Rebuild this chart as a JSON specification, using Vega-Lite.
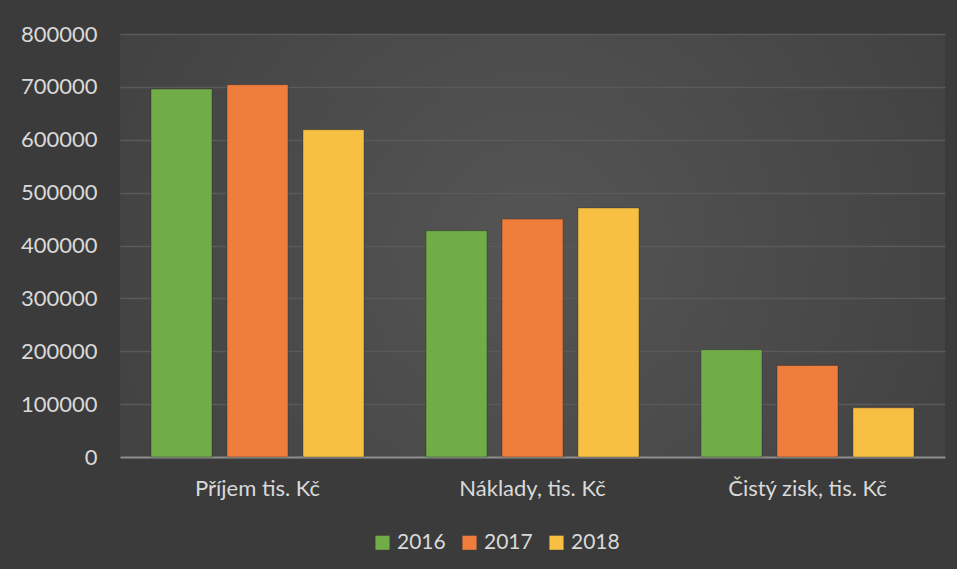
{
  "$schema": "https://vega.github.io/schema/vega-lite/v6.json",
  "autosize": {"type": "none"},
  "width": 825,
  "height": 423,
  "padding": {"left": 120, "top": 34, "right": 12, "bottom": 112},
  "background": "#3b3b3b",
  "config": {
    "view": {"stroke": null, "fill": {"gradient": "radial", "x1": 0.5, "y1": 0.5, "x2": 0.5, "y2": 0.5, "r1": 0, "r2": 0.75, "stops": [{"offset": 0, "color": "#555555"}, {"offset": 1, "color": "#3b3b3b"}]}},
    "font": "Lato"
  },
  "data": {
    "values": [
      {"kategorie": "Příjem tis. Kč", "rok": "2016", "hodnota": 696000},
      {"kategorie": "Příjem tis. Kč", "rok": "2017", "hodnota": 704000},
      {"kategorie": "Příjem tis. Kč", "rok": "2018", "hodnota": 619000},
      {"kategorie": "Náklady, tis. Kč", "rok": "2016", "hodnota": 428000},
      {"kategorie": "Náklady, tis. Kč", "rok": "2017", "hodnota": 450000},
      {"kategorie": "Náklady, tis. Kč", "rok": "2018", "hodnota": 471000},
      {"kategorie": "Čistý zisk, tis. Kč", "rok": "2016", "hodnota": 203000},
      {"kategorie": "Čistý zisk, tis. Kč", "rok": "2017", "hodnota": 173000},
      {"kategorie": "Čistý zisk, tis. Kč", "rok": "2018", "hodnota": 93000}
    ]
  },
  "mark": {"type": "bar", "strokeWidth": 1, "strokeOpacity": 0.35, "stroke": "#222222"},
  "encoding": {
    "x": {
      "field": "kategorie",
      "type": "nominal",
      "sort": null,
      "scale": {"paddingInner": 0, "paddingOuter": 0},
      "axis": {
        "title": null,
        "labelAngle": 0,
        "labelFontSize": 22,
        "labelColor": "#d9d9d9",
        "labelPadding": 21,
        "ticks": false,
        "domain": true,
        "domainColor": "#8c8c8c",
        "domainWidth": 2,
        "grid": false
      }
    },
    "xOffset": {
      "field": "rok",
      "type": "nominal",
      "scale": {"paddingInner": 0.197, "paddingOuter": 0.408}
    },
    "y": {
      "field": "hodnota",
      "type": "quantitative",
      "scale": {"domain": [0, 800000], "nice": false},
      "axis": {
        "title": null,
        "values": [0, 100000, 200000, 300000, 400000, 500000, 600000, 700000, 800000],
        "format": "d",
        "labelFontSize": 22,
        "labelColor": "#d9d9d9",
        "labelPadding": 23,
        "ticks": false,
        "domain": false,
        "gridColor": "#5a5a5a",
        "gridWidth": 1.5
      }
    },
    "color": {
      "field": "rok",
      "type": "nominal",
      "scale": {"domain": ["2016", "2017", "2018"], "range": ["#70AD47", "#EF7D3C", "#F8C043"]},
      "legend": {
        "title": null,
        "orient": "none",
        "direction": "horizontal",
        "legendX": 252,
        "legendY": 498,
        "symbolType": "square",
        "symbolSize": 200,
        "symbolStrokeWidth": 0,
        "labelFontSize": 21,
        "labelColor": "#d9d9d9",
        "labelOffset": 4,
        "columnPadding": 13
      }
    }
  }
}
